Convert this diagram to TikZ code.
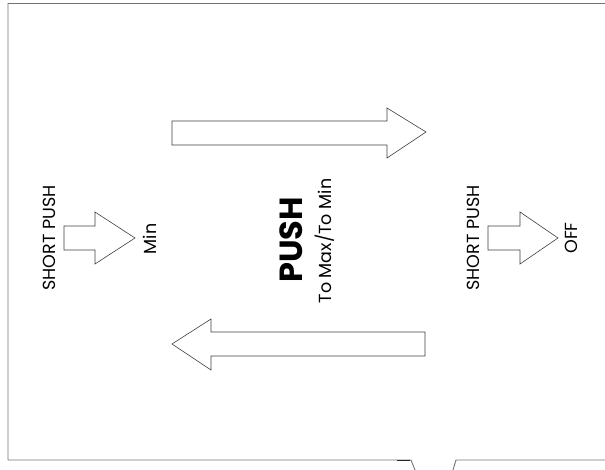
\documentclass[tikz,border=0pt]{standalone}
\usepackage{fontspec}
\setmainfont{Poppins}
\begin{document}
\begin{tikzpicture}[x=1pt,y=-1pt,
  frame/.style={draw=black!55,line width=0.9pt},
  arrowshape/.style={draw=black!75,line width=0.6pt,fill=white,line join=miter},
  label/.style={rotate=90,inner sep=0pt,text=black},
  small/.style={label,font=\fontsize{17.5}{17.5}\selectfont},
  big/.style={label,font=\fontsize{32}{32}\selectfont\bfseries}]
\useasboundingbox (0,0) rectangle (605,470);
% frame
\draw[frame] (605,3.5) -- (8,3.5) -- (8,460) -- (411,460) -- (415,470);
\draw[frame] (453,470) -- (456,460) -- (605,460);
\draw[draw=black!85,line width=1pt] (397,460) -- (410,460);
% big arrows
\draw[arrowshape] (172,121) -- (387,121) -- (387,108) -- (426,132) -- (387,158) -- (387,145) -- (172,145) -- cycle;
\draw[arrowshape] (425,332) -- (211,332) -- (211,319) -- (172,344) -- (211,370) -- (211,356) -- (425,356) -- cycle;
% small arrows
\draw[arrowshape] (64,226) -- (95,226) -- (95,212) -- (135,238) -- (95,264) -- (95,250) -- (64,250) -- cycle;
\draw[arrowshape] (488,226) -- (520,226) -- (520,212) -- (558,238) -- (520,264) -- (520,250) -- (488,250) -- cycle;
% texts
\node[small] (sp1) at (49,238) {SHORT PUSH};
\node[small] (min) at (150,239) {Min};
\node[big] (push) at (291,240) {PUSH};
\node[small] (tomax) at (325,241) {To Max/To Min};
\node[small] (sp2) at (473,238) {SHORT PUSH};
\node[small] (off) at (571,238) {OFF};
\end{tikzpicture}
\end{document}
